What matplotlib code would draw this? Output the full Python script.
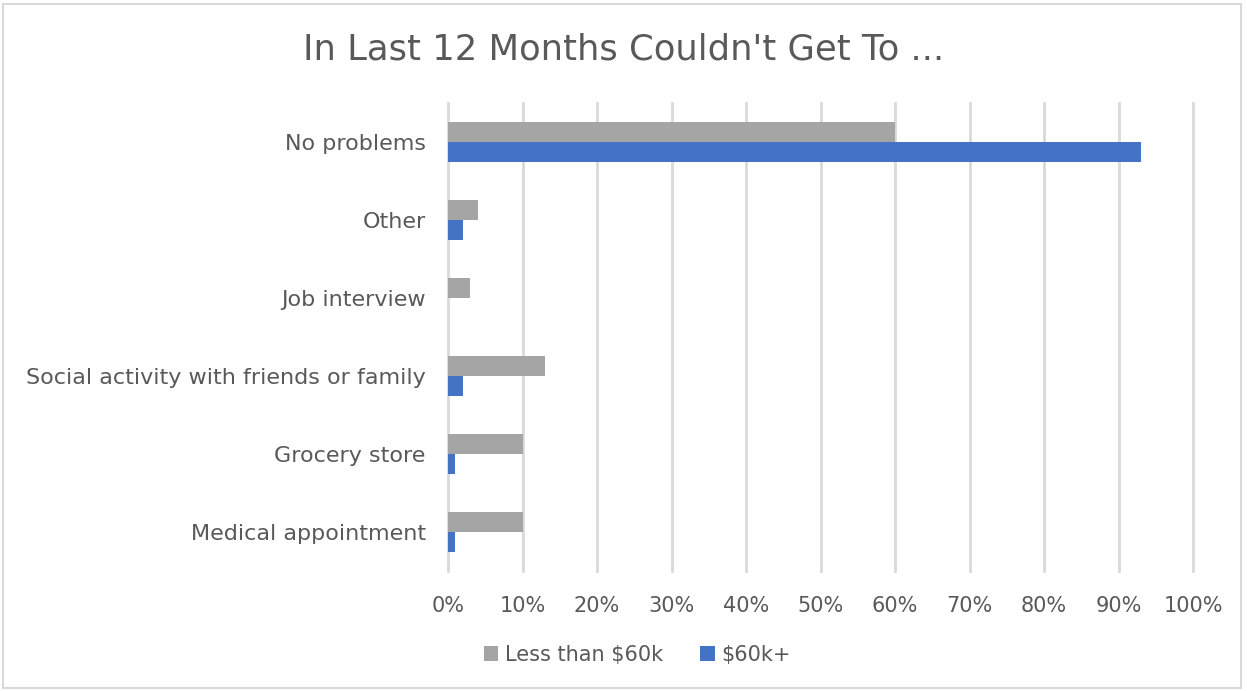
import matplotlib
matplotlib.use("Agg")
import matplotlib.pyplot as plt
from matplotlib.patches import Rectangle
import numpy as np

plt.rcParams['font.family'] = ['DejaVu Sans']

# Categories listed bottom to top (barh draws from y=0 upwards)
categories = ["Medical appointment", "Grocery store",
              "Social activity with friends or family",
              "Job interview", "Other", "No problems"]
less_60k = [10, 10, 13, 3, 4, 60]
over_60k = [1, 1, 2, 0, 2, 93]
series_names = ["Less than $60k", "$60k+"]

GRAY = "#a5a5a5"
BLUE = "#4472c4"
TEXT = "#595959"
GRID = "#d9d9d9"

fig = plt.figure(figsize=(12.47, 6.91), dpi=100)
ax = fig.add_axes([448 / 1247, 1 - 571 / 691, 745 / 1247, 468 / 691])

y = np.arange(len(categories))
h = 0.26
ax.barh(y + h / 2, less_60k, height=h, color=GRAY, label=series_names[0], zorder=3)
ax.barh(y - h / 2, over_60k, height=h, color=BLUE, label=series_names[1], zorder=3)

ax.set_xlim(0, 100)
ax.set_ylim(-0.5, len(categories) - 0.5)
ax.set_xticks(np.arange(0, 101, 10))
ax.set_xticklabels([f"{v}%" for v in range(0, 101, 10)])
ax.set_yticks(y)
ax.set_yticklabels(categories)
ax.tick_params(axis='both', length=0, labelsize=15, colors=TEXT)
ax.tick_params(axis='y', labelsize=16, pad=16)
ax.tick_params(axis='x', pad=18)
ax.grid(axis='x', color=GRID, linewidth=2, zorder=0)
# keep the 0% and 100% gridlines full width at the axes edges
for gl in ax.get_xgridlines():
    gl.set_clip_on(False)
for s in ax.spines.values():
    s.set_visible(False)

fig.text(0.5, 1 - 50 / 691, "In Last 12 Months Couldn't Get To ...",
         ha='center', va='center', fontsize=25.5, color=TEXT)

leg = fig.legend(loc='center', bbox_to_anchor=(0.511, 1 - 655 / 691), ncol=2,
                 frameon=False, fontsize=15, handlelength=0.7, handleheight=0.7,
                 handletextpad=0.3, columnspacing=1.8)
for t in leg.get_texts():
    t.set_color(TEXT)

# thin frame around the whole chart area
fig.patches.append(Rectangle((3 / 1247, 3 / 691), 1238 / 1247, 684 / 691,
                             transform=fig.transFigure, fill=False,
                             edgecolor=GRID, linewidth=1.5))

fig.savefig("out.png", dpi=100)
